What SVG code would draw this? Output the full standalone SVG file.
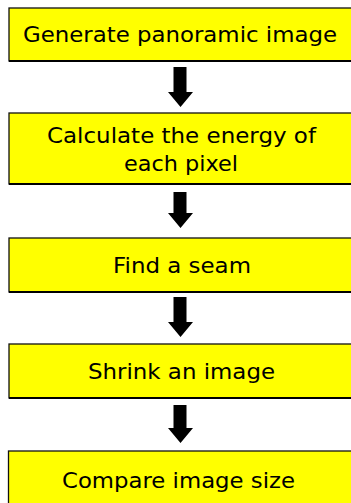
<svg xmlns="http://www.w3.org/2000/svg" width="351" height="503" viewBox="0 0 351 503">
<style>
.box{fill:#ffff00;stroke:#111;stroke-width:1.3}
.bot{stroke:#000;stroke-width:2.2}
.t{font-family:"DejaVu Sans","Noto Sans","Liberation Sans",sans-serif;font-size:20.5px;fill:#000}
.arr{fill:#000}
</style>
<rect width="351" height="503" fill="#fff"/>
<g id="n1">
<rect class="box" x="9" y="8" width="345" height="53"/>
<line class="bot" x1="9" y1="61" x2="351" y2="61"/>
<text class="t" x="23" y="42" textLength="314" lengthAdjust="spacingAndGlyphs">Generate panoramic image</text>
</g>
<g id="n2">
<rect class="box" x="9" y="113" width="345" height="71"/>
<line class="bot" x1="9" y1="184" x2="351" y2="184"/>
<text class="t" x="47" y="143" textLength="269" lengthAdjust="spacingAndGlyphs">Calculate the energy of</text>
<text class="t" x="124" y="171" textLength="114" lengthAdjust="spacingAndGlyphs">each pixel</text>
</g>
<g id="n3">
<rect class="box" x="9" y="238" width="345" height="54"/>
<line class="bot" x1="9" y1="292" x2="351" y2="292"/>
<text class="t" x="113" y="273" textLength="138" lengthAdjust="spacingAndGlyphs">Find a seam</text>
</g>
<g id="n4">
<rect class="box" x="9" y="344" width="345" height="54"/>
<line class="bot" x1="9" y1="398" x2="351" y2="398"/>
<text class="t" x="88" y="379" textLength="187" lengthAdjust="spacingAndGlyphs">Shrink an image</text>
</g>
<g id="n5">
<rect class="box" x="8.5" y="451" width="345" height="60"/>
<text class="t" x="62" y="488" textLength="233" lengthAdjust="spacingAndGlyphs">Compare image size</text>
</g>
<g id="connectors">
<path class="arr" d="M173.5 67 H186.5 V92 H193 L180.5 107 L168 92 H173.5 Z"/>
<path class="arr" d="M173.5 192 H186.5 V213 H193 L180.5 228 L168 213 H173.5 Z"/>
<path class="arr" d="M173.5 297 H186.5 V322 H193 L180.5 337 L168 322 H173.5 Z"/>
<path class="arr" d="M173.5 405 H186.5 V428 H193 L180.5 443 L168 428 H173.5 Z"/>
</g>
</svg>
